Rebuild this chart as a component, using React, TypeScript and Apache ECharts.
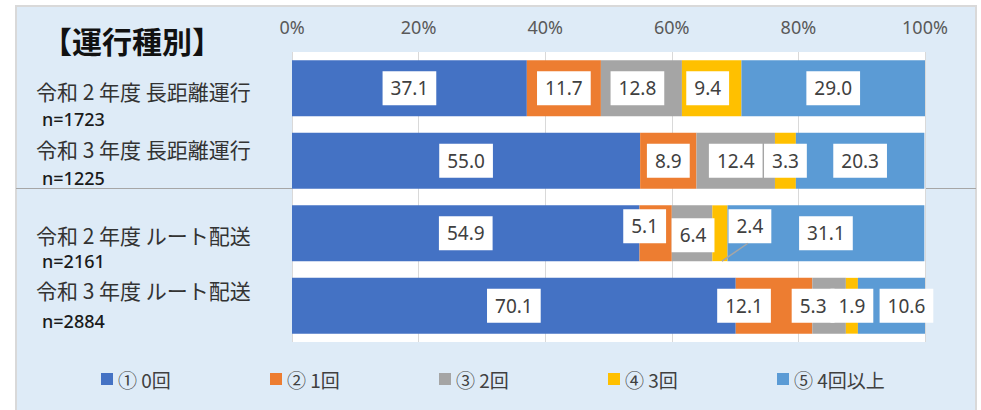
import React, { useEffect, useRef } from 'react';
import * as echarts from 'echarts';

// ---- data ----
const categories = ['令和 2 年度 長距離運行', '令和 3 年度 長距離運行', '令和 2 年度 ルート配送', '令和 3 年度 ルート配送'];
const sampleSizes = ['n=1723', 'n=1225', 'n=2161', 'n=2884'];
const seriesNames = ['① 0回', '② 1回', '③ 2回', '④ 3回', '⑤ 4回以上'];
const zeroTimes = [37.1, 55.0, 54.9, 70.1];
const oneTime = [11.7, 8.9, 5.1, 12.1];
const twoTimes = [12.8, 12.4, 6.4, 5.3];
const threeTimes = [9.4, 3.3, 2.4, 1.9];
const fourPlus = [29.0, 20.3, 31.1, 10.6];
const xTicks = [0, 20, 40, 60, 80, 100];
const chartTitle = '【運行種別】';

// ---- styles / layout ----
const colors = ['#4472C4', '#ED7D31', '#A5A5A5', '#FFC000', '#5B9BD5'];
const labelShift = [
  [[0, 0], [0, 0], [0, 0], [0, 0]],
  [[0, 0], [0, 0], [-11, -7], [-30, 0]],
  [[-4, 0], [0, 0], [1, 2], [-16, 0]],
  [[-4, 0], [0, 0], [30, -7], [0, 0]],
  [[0, 0], [0, 0], [0, 0], [15, 0]],
];
// label that has a leader line: [seriesIndex, categoryIndex]
const leader = [3, 2];
const catLine1Y = [91, 149, 235, 290];
const catLine2Y = [118.5, 177.5, 261, 321];
const BAR_RATIO = 0.77;
const CJK = '"Noto Sans CJK JP", "Noto Sans", sans-serif';
const LATIN = '"Noto Sans", "Noto Sans CJK JP", sans-serif';

export default function App() {
  const ref = useRef<HTMLDivElement>(null);
  useEffect(() => {
    if (!ref.current) return;
    const chart = echarts.init(ref.current, null, { renderer: 'svg' });
    const values = [zeroTimes, oneTime, twoTimes, threeTimes, fourPlus];
    const series = values.map((vals, si) => ({
      name: seriesNames[si],
      type: 'bar',
      stack: 'total',
      barCategoryGap: `${Math.round((1 - BAR_RATIO) * 100)}%`,
      itemStyle: { color: colors[si] },
      data: vals,
      label: {
        show: true,
        position: 'inside',
        formatter: (p: any) => Number(p.value).toFixed(1),
        fontFamily: LATIN,
        fontSize: 19,
        lineHeight: 22,
        color: '#404040',
        backgroundColor: '#FFFFFF',
        padding: [6, 8, 6, 8],
      },
      labelLayout: (p: any) => ({
        dx: labelShift[si][p.dataIndex][0],
        dy: labelShift[si][p.dataIndex][1],
      }),
    }));

    const graphics: any[] = [
      {
        type: 'rect',
        z: -10,
        shape: { x: 16, y: 6, width: 960, height: 430 },
        style: { fill: '#DEEBF7', stroke: '#D9D9D9', lineWidth: 2 },
      },
      {
        type: 'line',
        shape: { x1: 16, y1: 188.5, x2: 292, y2: 188.5 },
        style: { stroke: '#A6A6A6', lineWidth: 1 },
      },
      {
        type: 'line',
        shape: { x1: 925, y1: 188.5, x2: 976, y2: 188.5 },
        style: { stroke: '#A6A6A6', lineWidth: 1 },
      },
      {
        type: 'text',
        x: 42,
        y: 40,
        style: {
          text: chartTitle,
          fontFamily: CJK,
          fontSize: 30,
          fontWeight: 'bold',
          fill: '#111111',
          verticalAlign: 'middle',
        },
      },
    ];
    categories.forEach((c, i) => {
      graphics.push({
        type: 'text',
        x: 36,
        y: catLine1Y[i],
        style: { text: c, fontFamily: CJK, fontSize: 21, fill: '#333333', verticalAlign: 'middle' },
      });
      graphics.push({
        type: 'text',
        x: 42,
        y: catLine2Y[i],
        style: { text: sampleSizes[i], fontFamily: LATIN, fontSize: 18, fontWeight: 500, fill: '#1A1A1A', verticalAlign: 'middle' },
      });
    });

    const option: any = {
      animation: false,
      backgroundColor: '#FFFFFF',
      grid: {
        left: 292,
        right: 56,
        top: 52,
        bottom: 68,
        show: true,
        backgroundColor: '#FFFFFF',
        borderWidth: 0,
      },
      legend: {
        data: seriesNames,
        left: 101,
        top: 368,
        padding: 0,
        icon: 'rect',
        itemWidth: 12,
        itemHeight: 12,
        itemGap: 20,
        textStyle: { fontFamily: CJK, fontSize: 19, color: '#404040', width: 132, lineHeight: 22 },
      },
      xAxis: {
        type: 'value',
        position: 'top',
        min: xTicks[0],
        max: xTicks[xTicks.length - 1],
        interval: xTicks[1] - xTicks[0],
        axisLine: { show: false },
        axisTick: { show: false },
        axisLabel: { formatter: '{value}%', fontFamily: LATIN, fontSize: 18, color: '#595959', margin: 16 },
        splitLine: { show: true, lineStyle: { color: '#D9D9D9', width: 1 } },
      },
      yAxis: {
        type: 'category',
        inverse: true,
        data: categories,
        axisLine: { show: false },
        axisTick: { show: false },
        axisLabel: { show: false },
      },
      graphic: { elements: graphics },
      series,
    };
    chart.setOption(option);

    // leader line for the displaced label, positioned through the chart's scales
    const [ls, lc] = leader;
    let start = 0;
    for (let k = 0; k < ls; k++) start += values[k][lc];
    const mid = start + values[ls][lc] / 2;
    const pMid = chart.convertToPixel({ gridIndex: 0 }, [mid, lc]) as number[];
    const pNext = chart.convertToPixel({ gridIndex: 0 }, [mid, lc + 1]) as number[];
    const band = Math.abs(pNext[1] - pMid[1]);
    const barBottom = pMid[1] + (band * BAR_RATIO) / 2;
    const [dx, dy] = labelShift[ls][lc];
    const lineEl = {
      type: 'line',
      z: 100,
      shape: { x1: pMid[0] + 2, y1: barBottom, x2: pMid[0] + dx - 2, y2: pMid[1] + dy + 17 },
      style: { stroke: '#A6A6A6', lineWidth: 1.5 },
    };
    chart.setOption({ graphic: { elements: [...graphics, lineEl] } });

    return () => chart.dispose();
  }, []);
  return (
    <div
      ref={ref}
      style={{ position: 'absolute', left: 0, top: 0, width: 981, height: 410 }}
    />
  );
}
